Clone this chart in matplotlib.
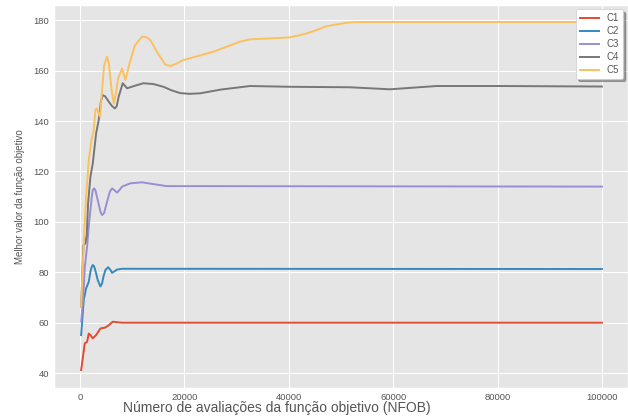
import matplotlib
matplotlib.use('Agg')
import matplotlib.pyplot as plt

plt.style.use('ggplot')
plt.rcParams['font.family'] = ['Liberation Sans', 'DejaVu Sans']

# valores
x_c1 = [200, 900, 1340, 1660, 1980, 2430, 3070, 3900, 4850, 5490, 6260, 7000, 8000, 100000]
y_c1 = [41.2, 51.8, 52.4, 55.7, 55.1, 53.8, 55.1, 57.7, 58.1, 59.0, 60.4, 60.2, 60.0, 60.0]

x_c2 = [200, 700, 1150, 1660, 2000, 2200, 2430, 2700, 3070, 3400, 3900, 4200, 4500, 4850, 5360,
        5800, 6130, 6600, 7090, 8050, 100000]
y_c2 = [55.1, 69.0, 73.6, 76.2, 80.5, 82.0, 82.9, 82.3, 79.6, 76.8, 74.4, 75.5, 78.5, 80.9, 82.0,
        81.0, 79.8, 80.4, 81.1, 81.4, 81.3]

x_c3 = [200, 600, 900, 1340, 1700, 1980, 2250, 2430, 2700, 2940, 3400, 3900, 4210, 4600, 5170,
        5700, 6130, 6600, 7090, 7600, 8050, 9640, 11880, 14000, 16600, 100000]
y_c3 = [60.5, 70.0, 82.0, 90.1, 99.0, 104.7, 110.0, 112.6, 113.3, 112.5, 108.5, 104.0, 102.7, 103.5, 108.0,
        112.0, 113.3, 112.5, 111.6, 112.8, 114.0, 115.3, 115.7, 115.0, 114.2, 114.0]

x_c4 = [200, 640, 1020, 1280, 1530, 1980, 2430, 3070, 3570, 4000, 4340, 4800, 5490, 6100, 6640,
        7000, 7400, 8170, 9000, 10500, 12130, 14000, 15960, 17500, 19160, 21000, 22990, 27000,
        32570, 40230, 51720, 59390, 68330, 80460, 100000]
y_c4 = [66.3, 90.8, 91.5, 95.0, 107.3, 117.9, 123.2, 135.1, 140.4, 148.0, 150.3, 149.8, 147.7, 146.0, 145.0,
        145.8, 149.7, 155.0, 153.0, 154.0, 155.0, 154.7, 153.6, 152.2, 151.1, 150.8, 151.0, 152.5,
        153.9, 153.6, 153.4, 152.6, 153.9, 153.9, 153.7]

x_c5 = [200, 700, 1150, 1660, 2170, 2620, 2940, 3200, 3450, 3830, 4200, 4600, 5170, 5500, 6000,
        6450, 6800, 7300, 8050, 8680, 9500, 10500, 11880, 12800, 13500, 15000, 16300, 17240,
        18500, 19800, 25540, 30650, 32570, 40230, 43000, 45340, 47000, 50440, 52000, 53640, 100000]
y_c5 = [66.3, 91.5, 110.0, 124.5, 132.4, 136.4, 144.4, 145.0, 143.7, 141.7, 152.0, 162.0, 165.5, 163.0, 153.0,
        147.0, 150.0, 157.0, 160.9, 156.3, 163.0, 170.0, 173.5, 173.2, 172.0, 166.5, 162.5, 161.8,
        162.8, 164.2, 167.5, 171.5, 172.4, 173.2, 174.5, 176.1, 177.5, 178.8, 179.2, 179.3, 179.3]

series = [('C1', x_c1, y_c1), ('C2', x_c2, y_c2), ('C3', x_c3, y_c3),
          ('C4', x_c4, y_c4), ('C5', x_c5, y_c5)]

fig = plt.figure(figsize=(6.28, 4.16), dpi=100)
ax = fig.add_axes([54 / 628, 28 / 416, 574 / 628, 383.4 / 416])

for nome, xs, ys in series:
    ax.plot(xs, ys, label=nome, linewidth=1.4)

ax.set_xlim(-5000, 105000)
ax.set_ylim(34.1, 186.2)
ax.set_yticks(range(40, 181, 20))
ax.set_xticks(range(0, 100001, 20000))
ax.minorticks_off()
ax.tick_params(labelsize=6.8, colors='#555555', length=0)

ax.set_xlabel('Número de avaliações da função objetivo (NFOB)', fontsize=10, color='#555555')
ax.xaxis.set_label_coords(0.389, -0.035)
ax.set_ylabel('Melhor valor da função objetivo', fontsize=7, color='#555555', labelpad=6)

leg = ax.legend(loc='upper right', fontsize=7, labelspacing=0.3, facecolor='white',
                framealpha=1, shadow=True)
for t in leg.get_texts():
    t.set_color('#555555')

fig.savefig('out.png', dpi=100)
